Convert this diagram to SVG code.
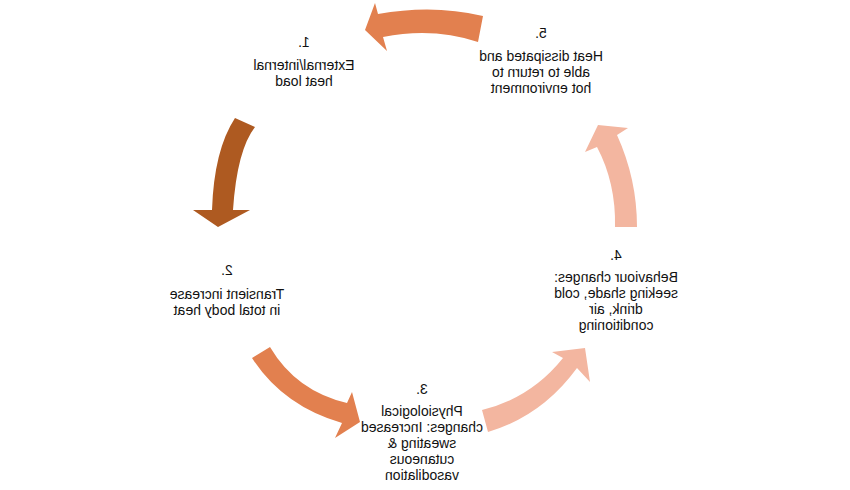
<svg xmlns="http://www.w3.org/2000/svg" width="850" height="490" viewBox="0 0 850 490">
  <style>
    text { font-family: "Liberation Sans", Arial, sans-serif; font-size: 14px; fill: #111; text-anchor: middle; }
    .dark { fill: #AE5A21; }
    .mid { fill: #E2804F; }
    .light { fill: #F3B6A0; }
  </style>
  <rect width="850" height="490" fill="#fff"/>
  <g id="connectors">
    <path class="mid" d="M483,16 Q433,4 378,14 L375,3 L365,30 L387,51 L383,37 Q433,27 478,42 Z"/>
    <path class="dark" d="M235,118 L255,127 Q237,150 233,210 L250,210 L218,227 L193,210 L212,210 Q214,150 235,118 Z"/>
    <path class="mid" d="M270,347 Q296,391 347,403 L352,392 L360,422 L335,438 L342,423 Q283,406 252,358 Z"/>
    <path class="light" d="M482,410 Q531,398 563,358 L552,352 L585,348 L590,382 L577,368 Q542,416 488,432 Z"/>
    <path class="light" d="M615,227 Q616,183 597,147 L585,152 L598,125 L628,128 L617,135 Q637,179 637,227 Z"/>
  </g>
  <g id="node1" transform="translate(608,0) scale(-1,1)">
    <text x="304" y="47">1.</text>
    <text x="304" y="70">External/internal</text>
    <text x="304" y="86">heat load</text>
  </g>
  <g id="node2" transform="translate(454,0) scale(-1,1)">
    <text x="227" y="275">2.</text>
    <text x="227" y="299">Transient increase</text>
    <text x="227" y="315">in total body heat</text>
  </g>
  <g id="node3" transform="translate(844,0) scale(-1,1)">
    <text x="422" y="394">3.</text>
    <text x="422" y="416">Physiological</text>
    <text x="422" y="432">changes: Increased</text>
    <text x="422" y="448">sweating &amp;</text>
    <text x="422" y="464">cutaneous</text>
    <text x="422" y="480">vasodilation</text>
  </g>
  <g id="node4" transform="translate(1232,0) scale(-1,1)">
    <text x="616" y="260">4.</text>
    <text x="616" y="282">Behaviour changes:</text>
    <text x="616" y="298">seeking shade, cold</text>
    <text x="616" y="314">drink, air</text>
    <text x="616" y="330">conditioning</text>
  </g>
  <g id="node5" transform="translate(1082,0) scale(-1,1)">
    <text x="541" y="38">5.</text>
    <text x="541" y="61">Heat dissipated and</text>
    <text x="541" y="77">able to return to</text>
    <text x="541" y="93">hot environment</text>
  </g>
</svg>
